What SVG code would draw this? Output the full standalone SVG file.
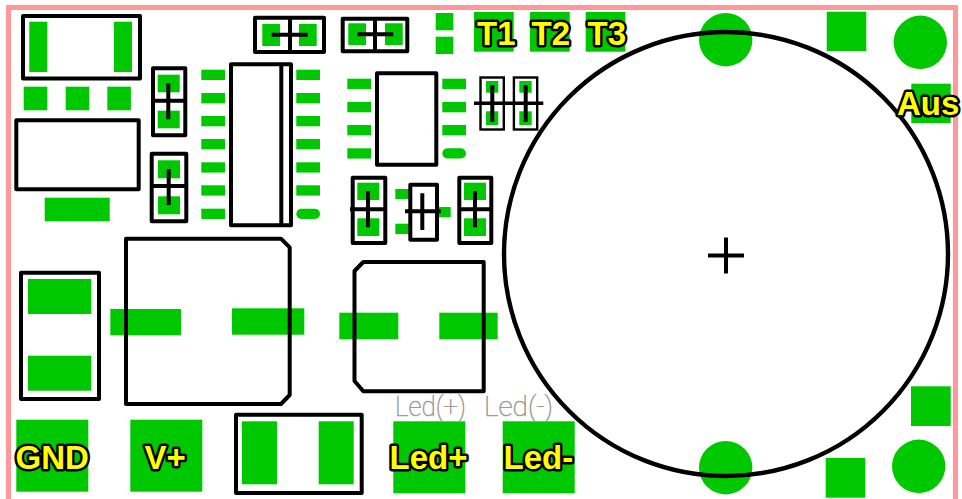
<svg xmlns="http://www.w3.org/2000/svg" width="962" height="499" viewBox="0 0 962 499">
<style>
.p{fill:#00c800}
.o{fill:none;stroke:#000;stroke-width:4;stroke-linejoin:round;stroke-linecap:butt}
.l{font-family:"Liberation Sans",Arial,sans-serif;font-weight:700;font-size:33px;fill:#ff0;stroke:#000;stroke-width:5;paint-order:stroke;stroke-linejoin:round}
.g{font-family:Roboto,"Liberation Sans",sans-serif;font-weight:100;font-size:27px;fill:#999;stroke:#999;stroke-width:.5}
</style>
<rect width="962" height="499" fill="#fff"/>
<path id="border" d="M8.5 499V7.5H955.5V499" fill="none" stroke="#ff9999" stroke-width="5"/>
<g id="u-top-left"><rect class="p" x="29.3" y="21.7" width="18" height="50.3"/><rect class="p" x="114" y="21.7" width="18" height="50.3"/><rect class="o" x="23" y="16" width="117" height="62.5"/></g>
<g id="pads-three"><rect class="p" x="23.7" y="86.7" width="23.6" height="23.6"/><rect class="p" x="65.7" y="86.7" width="23.6" height="23.6"/><rect class="p" x="107.3" y="86.7" width="23.6" height="23.6"/></g>
<g id="u-box2"><rect class="o" x="16.3" y="120.3" width="122.4" height="69"/><rect class="p" x="44.7" y="197.7" width="65" height="23.6"/></g>
<g id="j-a"><rect class="p" x="157.7" y="74.7" width="22" height="17.6"/><rect class="p" x="157.7" y="110.7" width="22" height="17.6"/><rect class="o" x="153" y="68.3" width="32.3" height="67"/><path class="o" d="M153 100.7H185.3M168.3 83.3V119.3"/></g>
<g id="j-b"><rect class="p" x="158" y="160.3" width="22" height="18"/><rect class="p" x="158" y="196.3" width="22" height="18"/><rect class="o" x="151.7" y="153.7" width="34.6" height="67.6"/><path class="o" d="M151.7 186H186.3M168.7 169V205"/></g>
<g id="j-c"><rect class="p" x="262.3" y="24" width="17.7" height="22"/><rect class="p" x="299" y="24" width="17.7" height="22"/><rect class="o" x="255" y="17.7" width="69" height="34.3"/><path class="o" d="M290 17.7V52M271.7 34.7H307.7"/></g>
<g id="j-d"><rect class="p" x="348.3" y="23.3" width="17.7" height="21.7"/><rect class="p" x="385" y="23.3" width="17.7" height="21.7"/><rect class="o" x="342.7" y="18.7" width="64.6" height="32.6"/><path class="o" d="M375 18.7V51.3M357.3 34.3H393.3"/></g>
<g id="pads-pair"><rect class="p" x="435.7" y="13" width="17.6" height="17.3"/><rect class="p" x="435.7" y="36.7" width="17.6" height="17.3"/></g>
<g id="ic1">
<rect class="p" x="201.3" y="69.7" width="23.7" height="10.3"/><rect class="p" x="201.3" y="93" width="23.7" height="10.3"/><rect class="p" x="201.3" y="116" width="23.7" height="10.3"/><rect class="p" x="201.3" y="139" width="23.7" height="10.3"/><rect class="p" x="201.3" y="162.3" width="23.7" height="10.3"/><rect class="p" x="201.3" y="185.3" width="23.7" height="10.3"/><rect class="p" x="201.3" y="208.7" width="23.7" height="10.3"/>
<rect class="p" x="296.3" y="69.7" width="23.7" height="10.3"/><rect class="p" x="296.3" y="93" width="23.7" height="10.3"/><rect class="p" x="296.3" y="116" width="23.7" height="10.3"/><rect class="p" x="296.3" y="139" width="23.7" height="10.3"/><rect class="p" x="296.3" y="162.3" width="23.7" height="10.3"/><rect class="p" x="296.3" y="185.3" width="23.7" height="10.3"/><rect class="p" x="296.3" y="208.7" width="23.7" height="10.3" rx="5.1"/>
<rect class="o" x="231" y="64.3" width="60" height="161"/><path class="o" d="M281.3 64.3V225.3"/></g>
<g id="ic2">
<rect class="p" x="347.3" y="78.7" width="23.7" height="10.3"/><rect class="p" x="347.3" y="102" width="23.7" height="10.3"/><rect class="p" x="347.3" y="125" width="23.7" height="10.3"/><rect class="p" x="347.3" y="148.3" width="23.7" height="10.3"/>
<rect class="p" x="442.3" y="78.7" width="23.7" height="10.3"/><rect class="p" x="442.3" y="102" width="23.7" height="10.3"/><rect class="p" x="442.3" y="125" width="23.7" height="10.3"/><rect class="p" x="442.3" y="148.3" width="23.7" height="10.3" rx="5.1"/>
<rect class="o" x="377" y="73.3" width="59.3" height="91.4"/></g>
<g id="j-e"><rect x="480.5" y="77.5" width="23.3" height="52" fill="none" stroke="#000" stroke-width="2.4"/><rect class="p" x="486" y="81" width="12.3" height="11.7"/><rect class="p" x="486" y="111.3" width="12.3" height="13.7"/><path class="o" d="M492.3 85V122"/></g>
<g id="j-f"><rect x="513.9" y="77.5" width="23.3" height="52" fill="none" stroke="#000" stroke-width="2.4"/><rect class="p" x="519.3" y="81" width="12.4" height="11.7"/><rect class="p" x="519.3" y="111.3" width="12.4" height="13.7"/><path class="o" d="M525.7 85V122"/></g>
<path id="j-ef-bar" d="M474 103.3H543.3" stroke="#000" stroke-width="3.4" fill="none"/>
<g id="j-g"><rect class="p" x="357.3" y="182.7" width="22" height="17.3"/><rect class="p" x="357.3" y="218.3" width="22" height="17.7"/><rect class="o" x="352.7" y="177.7" width="32.6" height="65.3"/><path class="o" d="M350 209.3H385.3M368 191V227.3"/></g>
<g id="j-h"><rect class="p" x="395.3" y="189" width="15" height="10"/><rect class="p" x="395.3" y="223.7" width="15" height="10.3"/><rect class="p" x="438" y="207" width="12.7" height="10.3"/><rect class="o" x="410.3" y="184.7" width="26.7" height="55" style="fill:#fff"/><path class="o" d="M405 211.3H440.7M422.3 193.3V230"/></g>
<g id="j-i"><rect class="p" x="464" y="182.7" width="22" height="17.3"/><rect class="p" x="464" y="218.3" width="22" height="17.7"/><rect class="o" x="459.3" y="177.7" width="32" height="65.3"/><path class="o" d="M459.3 209.3H491.3M475 191V227.3"/></g>
<g id="u-left"><rect class="p" x="28" y="279" width="63.3" height="35"/><rect class="p" x="28" y="355.7" width="63.3" height="35"/><rect class="o" x="21" y="272.7" width="78" height="126.3"/></g>
<g id="cap-a"><rect class="p" x="110.3" y="309" width="70.7" height="26.3"/><rect class="p" x="232" y="308.3" width="72.3" height="26.4"/><path class="o" d="M126 238.7H281L289.7 247.3V395L281 404H126Z"/></g>
<g id="u-bottom"><rect class="p" x="242" y="421.3" width="35" height="63"/><rect class="p" x="318.7" y="421.3" width="35" height="63"/><rect class="o" x="236" y="414.7" width="125.7" height="78.3"/></g>
<g id="cap-b"><rect class="p" x="339.3" y="312.7" width="59" height="26.6"/><rect class="p" x="439.3" y="312.7" width="58.4" height="26.6"/><path class="o" d="M363.3 262H483.7V391.3H363.3L354.5 381V271Z"/></g>
<g id="corner-pads"><rect class="p" x="826.7" y="11.7" width="39.6" height="39.4"/><rect class="p" x="911" y="386.3" width="39.7" height="39.7"/><rect class="p" x="825.7" y="458" width="39.6" height="39.7"/>
<circle class="p" cx="920.3" cy="42.3" r="26.7"/><circle class="p" cx="918.7" cy="466.3" r="26.7"/><circle class="p" cx="725.7" cy="39.7" r="26.7"/><circle class="p" cx="725.7" cy="467.7" r="26.7"/></g>
<g id="gnd"><rect class="p" x="16.3" y="419.7" width="72" height="72"/></g>
<g id="vplus"><rect class="p" x="130.3" y="419.7" width="72" height="72"/></g>
<g id="ledplus"><rect class="p" x="393.3" y="421.3" width="72" height="72"/></g>
<g id="ledminus"><rect class="p" x="502.7" y="421.3" width="72" height="72"/></g>
<g id="t1"><rect class="p" x="474" y="12" width="39.7" height="39.7"/></g>
<g id="t2"><rect class="p" x="530" y="12" width="39.7" height="39.7"/></g>
<g id="t3"><rect class="p" x="585.7" y="12" width="39.7" height="39.7"/></g>
<g id="aus"><rect class="p" x="911.3" y="83.7" width="39.4" height="39.4"/></g>
<g id="battery"><circle cx="726" cy="254" r="222" fill="none" stroke="#000" stroke-width="4.4"/><path class="o" d="M708 255.5H744M726 237.5V273.5"/></g>
<text class="g" x="395" y="415.5" textLength="71" lengthAdjust="spacingAndGlyphs">Led(+)</text>
<text class="g" x="484" y="415.5" textLength="69" lengthAdjust="spacingAndGlyphs">Led(-)</text>
<text class="l" x="477" y="44.5">T1</text>
<text class="l" x="531.5" y="44.5">T2</text>
<text class="l" x="587.5" y="44.5">T3</text>
<text class="l" x="897" y="115">Aus</text>
<text class="l" x="15.5" y="469">GND</text>
<text class="l" x="144.5" y="469">V+</text>
<text class="l" x="389.5" y="469">Led+</text>
<text class="l" x="503.5" y="469">Led-</text>
</svg>
